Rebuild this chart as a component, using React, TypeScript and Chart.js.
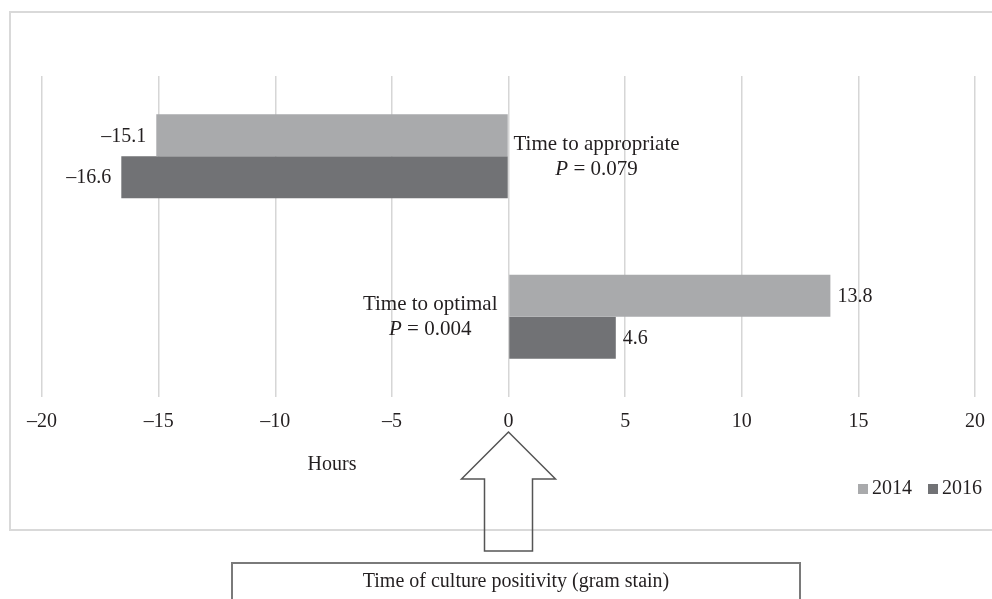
import React, { useEffect, useRef } from "react";
import { Chart, registerables } from "chart.js";

Chart.register(...registerables);

// ---- data ----
const categories = ["Time to appropriate", "Time to optimal"];
const pValues = ["0.079", "0.004"];
const seriesLabels = ["2014", "2016"];
const values2014 = [-15.1, 13.8];
const values2016 = [-16.6, 4.6];
const seriesColors = ["#a9aaac", "#717275"];
const xMin = -20;
const xMax = 20;
const xStep = 5;
const xAxisTitle = "Hours";
const footnote = "Time of culture positivity (gram stain)";

const FONT = '"Liberation Serif", "Times New Roman", serif';
const TEXT = "#231f20";

const fmtTick = (v: number) => (v < 0 ? "\u2013" + Math.abs(v) : String(v));
const fmtVal = (v: number) => (v < 0 ? "\u2013" : "") + Math.abs(v).toFixed(1);

const overlay = {
  id: "overlay",
  beforeDraw(chart: any) {
    const ctx = chart.ctx;
    ctx.save();
    ctx.strokeStyle = "#d9d9d9";
    ctx.lineWidth = 2;
    ctx.strokeRect(10, 12, 1000, 518);
    ctx.restore();
  },
  afterDraw(chart: any) {
    const ctx = chart.ctx;
    const xs = chart.scales.x;
    const ys = chart.scales.y;
    const x0 = xs.getPixelForValue(0);
    ctx.save();
    ctx.fillStyle = TEXT;
    ctx.textBaseline = "middle";
    ctx.font = `20px ${FONT}`;

    // value labels
    chart.data.datasets.forEach((ds: any, di: number) => {
      const meta = chart.getDatasetMeta(di);
      meta.data.forEach((el: any, i: number) => {
        const v = ds.data[i] as number;
        const t = fmtVal(v);
        if (v < 0) {
          ctx.textAlign = "right";
          ctx.fillText(t, el.x - 10, el.y + 1);
        } else {
          ctx.textAlign = "left";
          ctx.fillText(t, el.x + 7, el.y + 1);
        }
      });
    });

    // category labels next to the zero line
    const CF = `21px ${FONT}`;
    categories.forEach((c, i) => {
      const yc = ys.getPixelForValue(i);
      const neg = values2014[i] + values2016[i] < 0;
      ctx.font = CF;
      const w1 = ctx.measureText(c).width;
      const cx = neg ? x0 + 5 + w1 / 2 : x0 - 11 - w1 / 2;
      ctx.textAlign = "center";
      ctx.fillText(c, cx, yc - 12);
      ctx.font = `italic ${CF}`;
      const wp = ctx.measureText("P").width;
      ctx.font = CF;
      const rest = " = " + pValues[i];
      const wr = ctx.measureText(rest).width;
      const sx = cx - (wp + wr) / 2;
      ctx.textAlign = "left";
      ctx.font = `italic ${CF}`;
      ctx.fillText("P", sx, yc + 13);
      ctx.font = CF;
      ctx.fillText(rest, sx + wp, yc + 13);
    });

    // axis title
    ctx.font = `20px ${FONT}`;
    ctx.textAlign = "center";
    ctx.fillText(xAxisTitle, 332, 465);

    // legend
    let lx = 858;
    const ly = 489;
    seriesLabels.forEach((s, i) => {
      ctx.fillStyle = seriesColors[i];
      ctx.fillRect(lx, ly - 5, 10, 10);
      lx += 14;
      ctx.fillStyle = TEXT;
      ctx.textAlign = "left";
      ctx.fillText(s, lx, ly);
      lx += ctx.measureText(s).width + 16;
    });

    // arrow
    ctx.strokeStyle = "#555555";
    ctx.lineWidth = 1.5;
    ctx.beginPath();
    ctx.moveTo(x0, 432);
    ctx.lineTo(x0 - 47, 479);
    ctx.lineTo(x0 - 24, 479);
    ctx.lineTo(x0 - 24, 551);
    ctx.lineTo(x0 + 24, 551);
    ctx.lineTo(x0 + 24, 479);
    ctx.lineTo(x0 + 47, 479);
    ctx.closePath();
    ctx.stroke();

    // footnote box
    ctx.strokeStyle = "#7a7a7a";
    ctx.lineWidth = 2;
    ctx.strokeRect(232, 563, 568, 60);
    ctx.fillStyle = TEXT;
    ctx.textAlign = "center";
    ctx.font = `20px ${FONT}`;
    ctx.fillText(footnote, 516, 582);
    ctx.restore();
  },
};

export default function App() {
  const ref = useRef<HTMLCanvasElement | null>(null);
  useEffect(() => {
    if (!ref.current) return;
    const chart = new Chart(ref.current, {
      type: "bar",
      data: {
        labels: categories,
        datasets: [
          {
            label: seriesLabels[0],
            data: values2014,
            backgroundColor: seriesColors[0],
            borderWidth: 0,
            categoryPercentage: 0.523,
            barPercentage: 1.0,
          },
          {
            label: seriesLabels[1],
            data: values2016,
            backgroundColor: seriesColors[1],
            borderWidth: 0,
            categoryPercentage: 0.523,
            barPercentage: 1.0,
          },
        ],
      },
      options: {
        indexAxis: "y",
        animation: false,
        responsive: false,
        maintainAspectRatio: false,
        devicePixelRatio: 1,
        layout: { padding: { left: 42, right: 17, top: 76, bottom: 0 } },
        plugins: { legend: { display: false }, tooltip: { enabled: false } },
        scales: {
          x: {
            type: "linear",
            min: xMin,
            max: xMax,
            ticks: {
              stepSize: xStep,
              padding: 13,
              color: TEXT,
              font: { family: FONT, size: 20 },
              callback: (v: any) => fmtTick(Number(v)),
            },
            grid: { color: "#d6d6d6", lineWidth: 1.5, drawTicks: false },
            border: { display: false },
            afterFit: (scale: any) => {
              scale.height = 202;
              scale.paddingLeft = 0;
              scale.paddingRight = 0;
            },
          },
          y: {
            display: false,
          },
        },
      },
      plugins: [overlay],
    } as any);
    return () => chart.destroy();
  }, []);
  return (
    <div style={{ position: "absolute", left: 0, top: 0, width: 992, height: 599 }}>
      <canvas ref={ref} width={992} height={599} style={{ display: "block", width: 992, height: 599 }} />
    </div>
  );
}
